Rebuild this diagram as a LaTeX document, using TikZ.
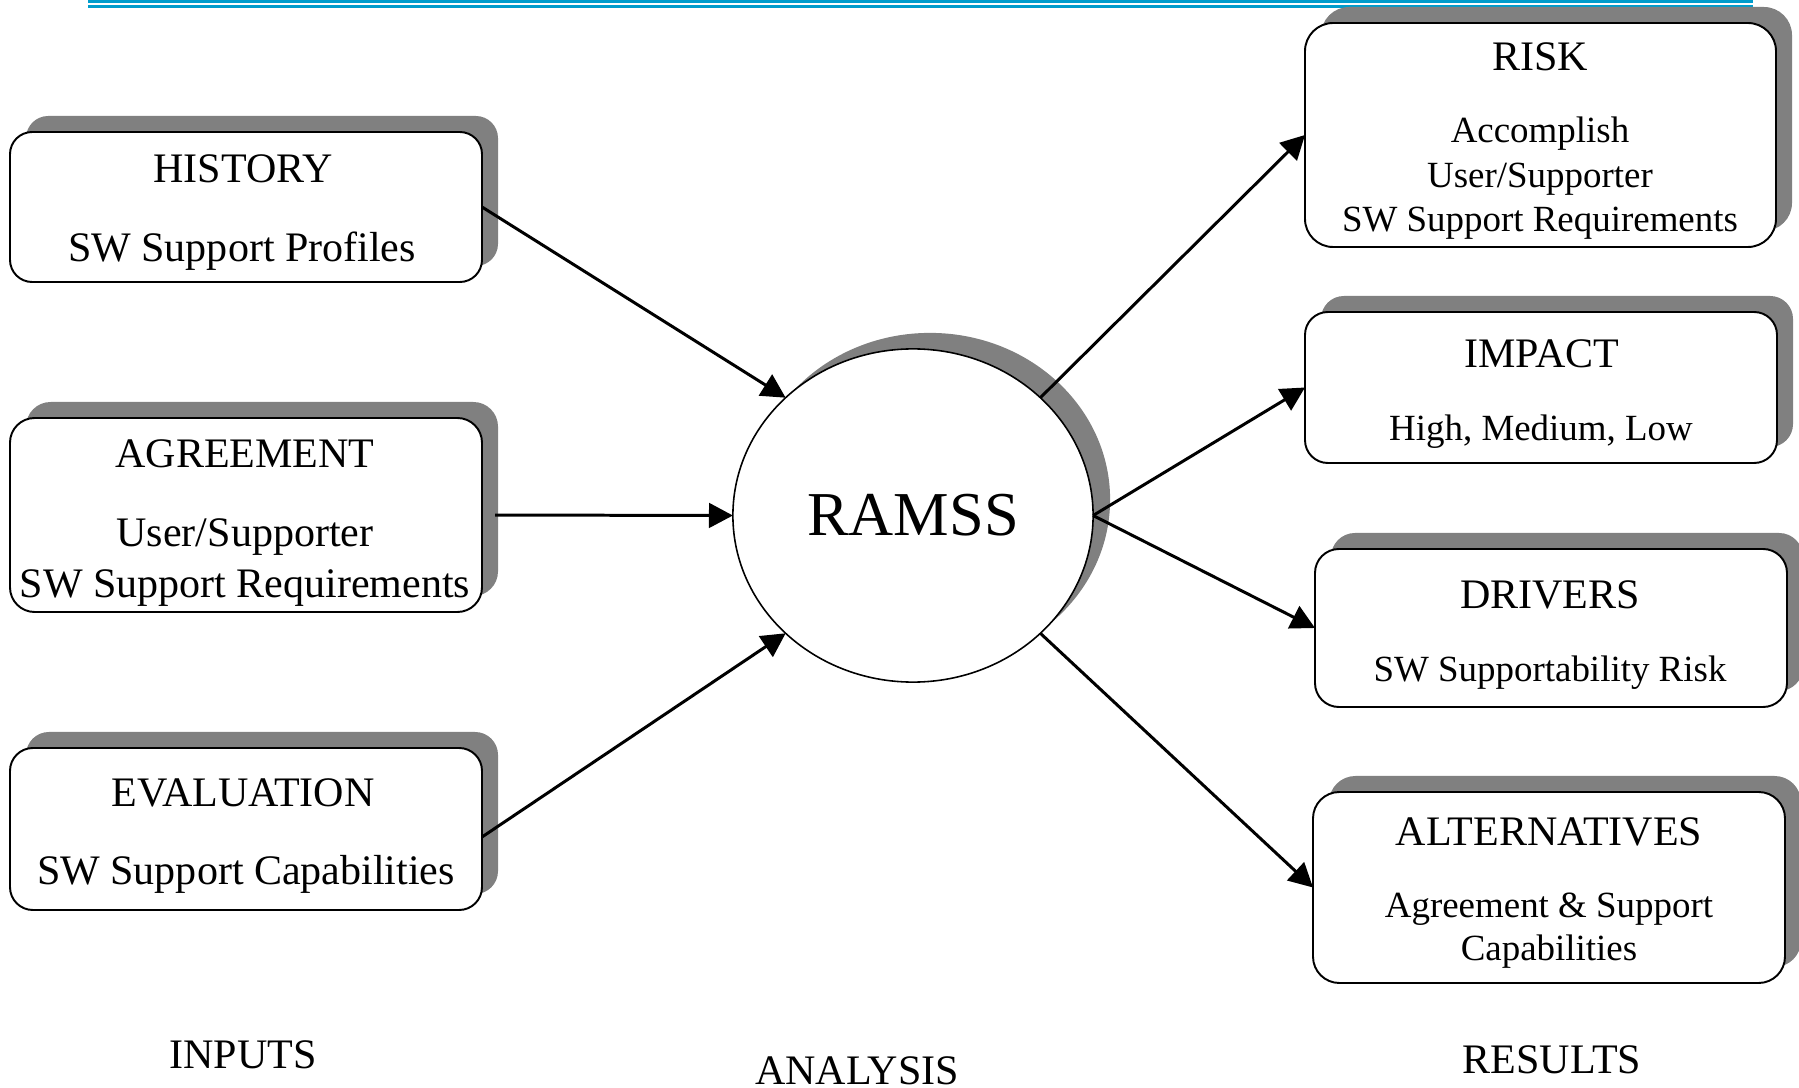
\documentclass[tikz,border=0pt]{standalone}
\usepackage{fontspec}
\setmainfont{Liberation Serif}
\usetikzlibrary{arrows.meta,shapes.geometric,shadows,fit}
\definecolor{ruleblue}{RGB}{0,156,204}
\definecolor{shadegray}{RGB}{128,128,128}
\tikzset{
  panel/.style={draw, line width=0.55pt, fill=white, inner sep=0pt, outer sep=0pt,
    general shadow={fill=shadegray, shadow xshift=0.16cm, shadow yshift=0.16cm}},
  headtext/.style={anchor=base, inner sep=0pt, font=\fontsize{11.95}{14}\selectfont},
  bodytext/.style={anchor=base, inner sep=0pt, font=\fontsize{11.95}{14}\selectfont},
  smalltext/.style={anchor=base, inner sep=0pt, font=\fontsize{10.5}{12.6}\selectfont},
  flow/.style={line width=0.85pt, -{Triangle[length=6.8pt,width=7pt]}},
}
\begin{document}
\begin{tikzpicture}[x=0.01cm, y=-0.01cm]
\useasboundingbox (0,0) rectangle (1799,1088);

% header rules
\fill[ruleblue] (88,0) rectangle (1753,3.5);
\fill[ruleblue] (88,5.5) rectangle (1753,8);

% input panels
\node[panel, rounded corners=6.3pt, fit={(10,132) (482,282)}] (hist) {};
\node[panel, rounded corners=7pt, fit={(10,418) (482,612)}] (agree) {};
\node[panel, rounded corners=6.5pt, fit={(10,748) (482,910)}] (eval) {};

% result panels
\node[panel, rounded corners=8pt, fit={(1305,23) (1776,247)}] (risk) {};
\node[panel, rounded corners=6.5pt, fit={(1305,312) (1777,463)}] (impact) {};
\node[panel, rounded corners=6.8pt, fit={(1315,549) (1787,707)}] (drivers) {};
\node[panel, rounded corners=7.5pt, fit={(1313,792) (1785,983)}] (alt) {};

% analysis
\node[ellipse, draw, fill=white, line width=0.45pt, inner sep=0pt, outer sep=0pt,
      minimum width=3.6cm, minimum height=3.33cm,
      general shadow={fill=shadegray, shadow xshift=0.17cm, shadow yshift=0.16cm},
      font=\fontsize{17.75}{21}\selectfont] (ramss) at (913,515.5) {RAMSS};

% panel texts
\node[headtext] (hist-h) at (243,183) {HISTORY};
\node[bodytext] (hist-b) at (242,262) {SW Support Profiles};
\node[headtext] (agree-h) at (245,467) {AGREEMENT};
\node[bodytext] (agree-b1) at (245,546) {User/Supporter};
\node[bodytext] (agree-b2) at (245,597) {SW Support Requirements};
\node[headtext] (eval-h) at (243,806) {EVALUATION};
\node[bodytext] (eval-b) at (246,884) {SW Support Capabilities};

\node[headtext] (risk-h) at (1540,71) {RISK};
\node[smalltext] (risk-b1) at (1540,143) {Accomplish};
\node[smalltext] (risk-b2) at (1540,188) {User/Supporter};
\node[smalltext] (risk-b3) at (1540,232) {SW Support Requirements};
\node[headtext] (impact-h) at (1542,367) {IMPACT};
\node[smalltext] (impact-b) at (1541,440) {High, Medium, Low};
\node[headtext] (drivers-h) at (1550,608) {DRIVERS};
\node[smalltext] (drivers-b) at (1550,681) {SW Supportability Risk};
\node[headtext] (alt-h) at (1549,845) {ALTERNATIVES};
\node[smalltext] (alt-b1) at (1549,917) {Agreement \& Support};
\node[smalltext] (alt-b2) at (1549,960) {Capabilities};

% column captions
\node[headtext] (inputs) at (243,1068) {INPUTS};
\node[headtext] (analysis) at (857,1084) {ANALYSIS};
\node[headtext] (results) at (1552,1073) {RESULTS};

% connectors
\draw[flow] (hist.east) -- (ramss.north west);
\draw[flow, shorten <=0.13cm] (agree.east) -- (ramss.west);
\draw[flow] ([yshift=-0.08cm]eval.east) -- (ramss.south west);
\draw[flow] (ramss.north east) -- (risk.west);
\draw[flow] (ramss.east) -- (impact.west);
\draw[flow] (ramss.east) -- (drivers.west);
\draw[flow] (ramss.south east) -- (alt.west);
\end{tikzpicture}
\end{document}
